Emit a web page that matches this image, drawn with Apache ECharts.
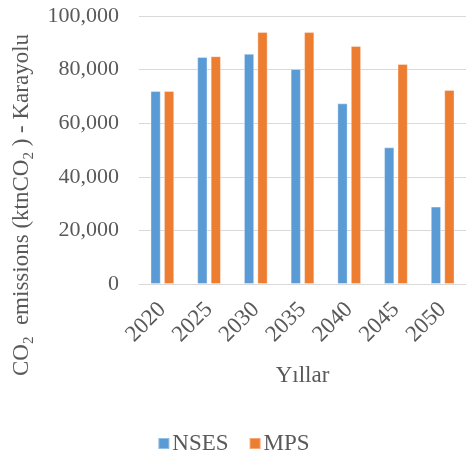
<!DOCTYPE html>
<html>
<head>
<meta charset="utf-8">
<script src="https://cdn.jsdelivr.net/npm/echarts@6/dist/echarts.min.js"></script>
<style>
    html, body { margin: 0; padding: 0; background: #fff; }
    #chart { width: 467px; height: 457px; }
</style>
</head>
<body>
<div id="chart"></div>
<script>
// 数据
let years = ['2020', '2025', '2030', '2035', '2040', '2045', '2050'];
let nsesData = [72000, 84700, 85900, 80200, 67400, 51000, 28900];
let mpsData = [72000, 85000, 94000, 94000, 88800, 82100, 72400];
let yTicks = [0, 20000, 40000, 60000, 80000, 100000];

let fontFamily = "'Liberation Serif', 'Times New Roman', serif";
let textColor = '#595959';

let myChart = echarts.init(document.getElementById('chart'));
let option = {
    animation: false,
    textStyle: {fontFamily: fontFamily},
    grid: {
        left: 139,
        right: 1,
        top: 16,
        bottom: 173
    },
    legend: {
        bottom: 2,
        padding: 0,
        left: 'center',
        itemWidth: 11,
        itemHeight: 11,
        itemGap: 20,
        icon: 'rect',
        textStyle: {fontSize: 23, color: textColor, fontFamily: fontFamily, padding: [0, 0, 0, -2]},
        data: ['NSES', 'MPS']
    },
    //纵轴标题
    graphic: [{
        type: 'text',
        x: 20,
        y: 205,
        rotation: Math.PI / 2,
        style: {
            text: '{a|CO}{s|2}{a|  emissions (ktnCO}{s|2}{a| ) - Karayolu}',
            align: 'center',
            verticalAlign: 'middle',
            fill: textColor,
            rich: {
                a: {fontSize: 23, fontFamily: fontFamily, fill: textColor, lineHeight: 26, verticalAlign: 'bottom'},
                s: {fontSize: 15, fontFamily: fontFamily, fill: textColor, lineHeight: 26, verticalAlign: 'bottom', padding: [0, 0, -4, 0]}
            }
        }
    }],
    xAxis: {
        type: 'category',
        data: years,
        name: 'Yıllar',
        nameLocation: 'middle',
        nameGap: 80,
        nameTextStyle: {fontSize: 23, color: textColor, fontFamily: fontFamily},
        axisLine: {lineStyle: {color: '#d9d9d9', width: 1}},
        axisTick: {show: false},
        axisLabel: {
            rotate: 45,
            fontSize: 23,
            color: textColor,
            fontFamily: fontFamily,
            margin: 22
        }
    },
    yAxis: {
        type: 'value',
        min: yTicks[0],
        max: yTicks[yTicks.length - 1],
        interval: yTicks[1] - yTicks[0],
        axisLine: {show: false},
        axisTick: {show: false},
        splitLine: {lineStyle: {color: '#d9d9d9', width: 1}},
        axisLabel: {
            fontSize: 22,
            color: textColor,
            fontFamily: fontFamily,
            margin: 20,
            formatter: function (v) {
                return v.toLocaleString('en-US');
            }
        }
    },
    series: [
        {
            name: 'NSES',
            type: 'bar',
            data: nsesData,
            barWidth: '22%',
            barGap: '31%',
            itemStyle: {color: '#5b9bd5', borderColor: 'rgba(255,255,255,0.35)', borderWidth: 1}
        },
        {
            name: 'MPS',
            type: 'bar',
            data: mpsData,
            barWidth: '22%',
            itemStyle: {color: '#ed7d31', borderColor: 'rgba(255,255,255,0.35)', borderWidth: 1}
        }
    ]
};
myChart.setOption(option);
</script>
</body>
</html>
